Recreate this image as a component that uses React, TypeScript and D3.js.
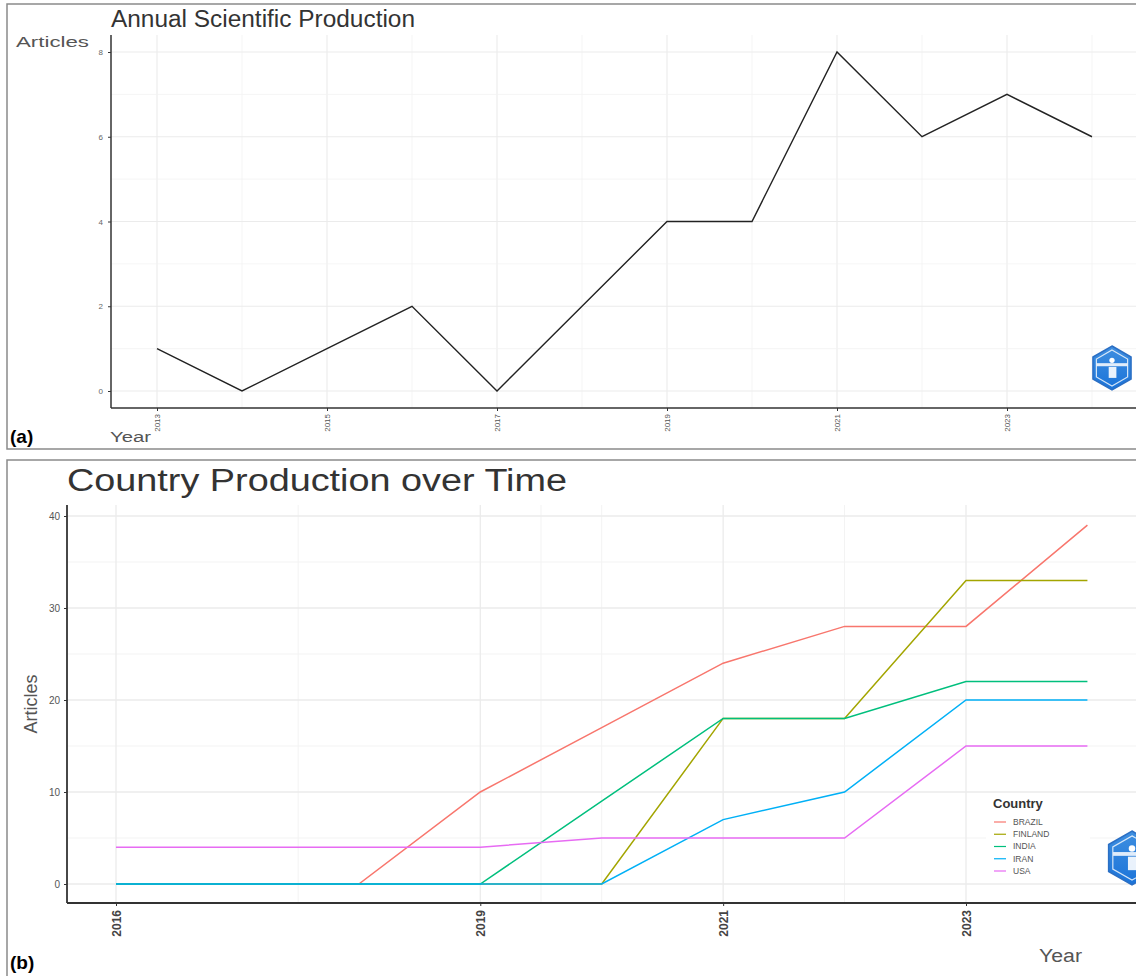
import * as d3 from 'd3';
import React, { useEffect, useRef } from 'react';

// panel (a) - annual production
const annualYears = [2013, 2014, 2015, 2016, 2017, 2018, 2019, 2020, 2021, 2022, 2023, 2024];
const annualArticles = [1, 0, 1, 2, 0, 2, 4, 4, 8, 6, 7, 6];
const annualXTicks = [2013, 2015, 2017, 2019, 2021, 2023];
const annualYTicks = [0, 2, 4, 6, 8];

// panel (b) - country production over time
const countryYears = [2016, 2017, 2018, 2019, 2020, 2021, 2022, 2023, 2024];
const countries = ['BRAZIL', 'FINLAND', 'INDIA', 'IRAN', 'USA'];
const brazil = [0, 0, 0, 10, 17, 24, 28, 28, 39];
const finland = [0, 0, 0, 0, 0, 18, 18, 33, 33];
const india = [0, 0, 0, 0, 9, 18, 18, 22, 22];
const iran = [0, 0, 0, 0, 0, 7, 10, 20, 20];
const usa = [4, 4, 4, 4, 5, 5, 5, 15, 15];
const countryColors = ['#F8766D', '#A3A500', '#00BF7D', '#00B0F6', '#E76BF3'];
const countryXTicks = [2016, 2019, 2021, 2023];
const countryXMinor = [2017.5, 2019.5, 2020, 2022];
const countryYTicks = [0, 10, 20, 30, 40];
const countryYMinor = [5, 15, 25, 35];

const W = 1136;
const H = 976;
const FONT = "'Liberation Sans', Arial, sans-serif";

const drawLogo = (
  svg: d3.Selection<SVGSVGElement, unknown, null, undefined>,
  cx: number,
  cy: number,
  r: number
) => {
  const pts = d3.range(6).map((i) => {
    const a = (Math.PI / 3) * i - Math.PI / 2;
    return [cx + r * Math.cos(a), cy + r * Math.sin(a)] as [number, number];
  });
  const inner = pts.map(([x, y]) => [cx + (x - cx) * 0.82, cy + (y - cy) * 0.82] as [number, number]);
  const g = svg.append('g');
  g.append('path')
    .attr('d', `M${pts.join('L')}Z`)
    .attr('fill', 'url(#logoGrad)')
    .attr('stroke', '#2b6fc4')
    .attr('stroke-width', 1.5);
  g.append('path')
    .attr('d', `M${inner.join('L')}Z`)
    .attr('fill', 'none')
    .attr('stroke', '#ffffff')
    .attr('stroke-width', 1.2)
    .attr('opacity', 0.8);
  g.append('rect')
    .attr('x', cx - r * 0.7)
    .attr('y', cy - r * 0.22)
    .attr('width', r * 1.4)
    .attr('height', r * 0.14)
    .attr('fill', '#ffffff')
    .attr('opacity', 0.85);
  g.append('path')
    .attr('d', `M${cx - r * 0.15},${cy - r * 0.05}h${r * 0.35}v${r * 0.5}h${-r * 0.35}Z`)
    .attr('fill', '#ffffff')
    .attr('opacity', 0.9);
  g.append('circle')
    .attr('cx', cx)
    .attr('cy', cy - r * 0.35)
    .attr('r', r * 0.12)
    .attr('fill', '#ffffff');
};

export default function App() {
  const ref = useRef<SVGSVGElement>(null);

  useEffect(() => {
    const svg = d3.select(ref.current as SVGSVGElement);
    svg.selectAll('*').remove();

    const defs = svg.append('defs');
    const grad = defs
      .append('linearGradient')
      .attr('id', 'logoGrad')
      .attr('x1', '0')
      .attr('y1', '0')
      .attr('x2', '0')
      .attr('y2', '1');
    grad.append('stop').attr('offset', '0%').attr('stop-color', '#3f8fe0');
    grad.append('stop').attr('offset', '100%').attr('stop-color', '#1a73d9');

    svg.append('rect').attr('width', W).attr('height', H).attr('fill', '#ffffff');

    // frames around the two panels
    svg.append('rect')
      .attr('x', 7).attr('y', 4).attr('width', W + 10).attr('height', 445)
      .attr('fill', 'none').attr('stroke', '#8a8a8a').attr('stroke-width', 1.5);
    svg.append('rect')
      .attr('x', 7).attr('y', 460).attr('width', W + 10).attr('height', 540)
      .attr('fill', 'none').attr('stroke', '#8a8a8a').attr('stroke-width', 1.5);

    // ---------- (a) Annual Scientific Production ----------
    const xA = d3.scaleLinear().domain([2013, 2024]).range([157, 1092]);
    const yA = d3.scaleLinear().domain([0, 8]).range([391, 52]);
    const panA = { left: 111, right: W, top: 35, bottom: 408 };

    const gridA = svg.append('g');
    gridA.selectAll('line.v')
      .data(annualYears)
      .join('line')
      .attr('x1', (d) => xA(d)).attr('x2', (d) => xA(d))
      .attr('y1', panA.top).attr('y2', panA.bottom)
      .attr('stroke', (d) => (annualXTicks.includes(d) ? '#ebebeb' : '#f3f3f3'))
      .attr('stroke-width', (d) => (annualXTicks.includes(d) ? 1.1 : 0.8));
    gridA.selectAll('line.h')
      .data(d3.range(0, 9))
      .join('line')
      .attr('x1', panA.left).attr('x2', panA.right)
      .attr('y1', (d) => yA(d)).attr('y2', (d) => yA(d))
      .attr('stroke', (d) => (d % 2 === 0 ? '#ebebeb' : '#f3f3f3'))
      .attr('stroke-width', (d) => (d % 2 === 0 ? 1.1 : 0.8));

    const lineA = d3
      .line<number>()
      .x((_d, i) => xA(annualYears[i]))
      .y((d) => yA(d));
    svg.append('path')
      .datum(annualArticles)
      .attr('d', lineA)
      .attr('fill', 'none')
      .attr('stroke', '#222222')
      .attr('stroke-width', 1.4);

    const axA = svg.append('g').attr('transform', `translate(0,${panA.bottom})`);
    axA.call(
      d3.axisBottom(xA).tickValues(annualXTicks).tickSize(3).tickPadding(3).tickFormat(d3.format('d'))
    );
    axA.select('.domain').attr('d', `M${panA.left},0H${panA.right}`).attr('stroke', '#333').attr('stroke-width', 1.5);
    axA.selectAll('.tick line').attr('stroke', '#333');
    axA.selectAll('.tick text')
      .attr('transform', 'rotate(-90)')
      .attr('text-anchor', 'end')
      .attr('x', -6)
      .attr('y', 0)
      .attr('dy', '0.32em')
      .attr('fill', '#555')
      .style('font-family', "'Liberation Sans Narrow', 'Liberation Sans', sans-serif")
      .style('font-size', '8px');

    const ayA = svg.append('g').attr('transform', `translate(${panA.left},0)`);
    ayA.call(d3.axisLeft(yA).tickValues(annualYTicks).tickSize(3).tickPadding(5));
    ayA.select('.domain').attr('d', `M0,${panA.top}V${panA.bottom}`).attr('stroke', '#333').attr('stroke-width', 1.5);
    ayA.selectAll('.tick line').attr('stroke', '#333');
    ayA.selectAll('.tick text')
      .attr('fill', '#666')
      .style('font-family', FONT)
      .style('font-size', '8px');

    svg.append('text')
      .attr('x', 111).attr('y', 27)
      .attr('fill', '#333')
      .attr('textLength', 304)
      .attr('lengthAdjust', 'spacingAndGlyphs')
      .style('font-family', FONT)
      .style('font-size', '23px')
      .text('Annual Scientific Production');
    svg.append('text')
      .attr('x', 16).attr('y', 47)
      .attr('fill', '#555')
      .attr('textLength', 73)
      .attr('lengthAdjust', 'spacingAndGlyphs')
      .style('font-family', FONT)
      .style('font-size', '14px')
      .text('Articles');
    svg.append('text')
      .attr('x', 110).attr('y', 442)
      .attr('fill', '#555')
      .attr('textLength', 41)
      .attr('lengthAdjust', 'spacingAndGlyphs')
      .style('font-family', FONT)
      .style('font-size', '14px')
      .text('Year');
    svg.append('text')
      .attr('x', 10).attr('y', 443)
      .attr('fill', '#000')
      .style('font-family', FONT)
      .style('font-weight', 'bold')
      .style('font-size', '19px')
      .text('(a)');

    drawLogo(svg, 1112, 368, 22);

    // ---------- (b) Country Production over Time ----------
    const xB = d3.scaleLinear().domain([2016, 2023]).range([116, 966]);
    const yB = d3.scaleLinear().domain([0, 40]).range([884, 516]);
    const panB = { left: 67, right: W, top: 505, bottom: 903 };

    const gridB = svg.append('g');
    gridB.selectAll('line.vmin')
      .data(countryXMinor)
      .join('line')
      .attr('x1', (d) => xB(d)).attr('x2', (d) => xB(d))
      .attr('y1', panB.top).attr('y2', panB.bottom)
      .attr('stroke', '#f3f3f3').attr('stroke-width', 1);
    gridB.selectAll('line.hmin')
      .data(countryYMinor)
      .join('line')
      .attr('x1', panB.left).attr('x2', panB.right)
      .attr('y1', (d) => yB(d)).attr('y2', (d) => yB(d))
      .attr('stroke', '#f3f3f3').attr('stroke-width', 1);
    gridB.selectAll('line.vmaj')
      .data(countryXTicks)
      .join('line')
      .attr('x1', (d) => xB(d)).attr('x2', (d) => xB(d))
      .attr('y1', panB.top).attr('y2', panB.bottom)
      .attr('stroke', '#ebebeb').attr('stroke-width', 1.3);
    gridB.selectAll('line.hmaj')
      .data(countryYTicks)
      .join('line')
      .attr('x1', panB.left).attr('x2', panB.right)
      .attr('y1', (d) => yB(d)).attr('y2', (d) => yB(d))
      .attr('stroke', '#ebebeb').attr('stroke-width', 1.3);

    const series = [brazil, finland, india, iran, usa];
    const lineB = d3
      .line<number>()
      .x((_d, i) => xB(countryYears[i]))
      .y((d) => yB(d));
    series.forEach((vals, i) => {
      svg.append('path')
        .datum(vals)
        .attr('d', lineB)
        .attr('fill', 'none')
        .attr('stroke', countryColors[i])
        .attr('stroke-width', 1.5);
    });

    const axB = svg.append('g').attr('transform', `translate(0,${panB.bottom})`);
    axB.call(
      d3.axisBottom(xB).tickValues(countryXTicks).tickSize(3).tickPadding(3).tickFormat(d3.format('d'))
    );
    axB.select('.domain').attr('d', `M${panB.left},0H${panB.right}`).attr('stroke', '#333').attr('stroke-width', 1.8);
    axB.selectAll('.tick line').attr('stroke', '#333');
    axB.selectAll('.tick text')
      .attr('transform', 'rotate(-90)')
      .attr('text-anchor', 'end')
      .attr('x', -7)
      .attr('y', 0)
      .attr('dy', '0.38em')
      .attr('fill', '#444')
      .style('font-family', FONT)
      .style('font-weight', 'bold')
      .style('font-size', '12px');

    const ayB = svg.append('g').attr('transform', `translate(${panB.left},0)`);
    ayB.call(d3.axisLeft(yB).tickValues(countryYTicks).tickSize(3).tickPadding(4));
    ayB.select('.domain').attr('d', `M0,${panB.top}V${panB.bottom}`).attr('stroke', '#333').attr('stroke-width', 1.8);
    ayB.selectAll('.tick line').attr('stroke', '#333');
    ayB.selectAll('.tick text')
      .attr('fill', '#555')
      .style('font-family', FONT)
      .style('font-size', '10px');

    svg.append('text')
      .attr('x', 67).attr('y', 491)
      .attr('fill', '#333')
      .attr('textLength', 500)
      .attr('lengthAdjust', 'spacingAndGlyphs')
      .style('font-family', FONT)
      .style('font-size', '31px')
      .text('Country Production over Time');
    svg.append('text')
      .attr('transform', `translate(37,${(panB.top + panB.bottom) / 2}) rotate(-90)`)
      .attr('text-anchor', 'middle')
      .attr('fill', '#555')
      .style('font-family', FONT)
      .style('font-size', '18px')
      .text('Articles');
    svg.append('text')
      .attr('x', 1039).attr('y', 962)
      .attr('fill', '#555')
      .attr('textLength', 43)
      .attr('lengthAdjust', 'spacingAndGlyphs')
      .style('font-family', FONT)
      .style('font-size', '18px')
      .text('Year');
    svg.append('text')
      .attr('x', 10).attr('y', 969)
      .attr('fill', '#000')
      .style('font-family', FONT)
      .style('font-weight', 'bold')
      .style('font-size', '19px')
      .text('(b)');

    // legend
    const lg = svg.append('g');
    lg.append('rect')
      .attr('x', 986).attr('y', 796).attr('width', 104).attr('height', 82)
      .attr('fill', '#ffffff');
    lg.append('text')
      .attr('x', 993).attr('y', 808)
      .attr('fill', '#333')
      .style('font-family', FONT)
      .style('font-weight', 'bold')
      .style('font-size', '13px')
      .text('Country');
    const legendY = d3.scalePoint<string>().domain(countries).range([822, 871]);
    countries.forEach((c, i) => {
      const yy = legendY(c) as number;
      lg.append('line')
        .attr('x1', 994).attr('x2', 1006)
        .attr('y1', yy).attr('y2', yy)
        .attr('stroke', countryColors[i])
        .attr('stroke-width', 1.2);
      lg.append('text')
        .attr('x', 1013).attr('y', yy)
        .attr('dy', '0.35em')
        .attr('fill', '#555')
        .style('font-family', FONT)
        .style('font-size', '8.5px')
        .text(c);
    });

    drawLogo(svg, 1132, 858, 27);
  }, []);

  return (
    <svg
      ref={ref}
      width={W}
      height={H}
      viewBox={`0 0 ${W} ${H}`}
      style={{ position: 'absolute', left: 0, top: 0, display: 'block' }}
    ></svg>
  );
}
